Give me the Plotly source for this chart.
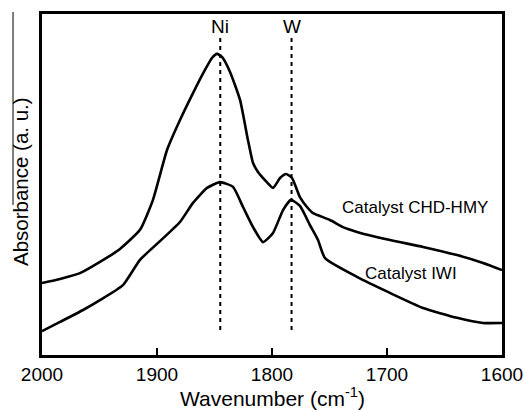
import plotly.graph_objects as go

# Wavenumber (cm^-1) and absorbance (a.u.)
chd_x = [2000, 1984.3, 1967.0, 1949.6, 1932.2, 1914.8, 1903.5, 1891.3, 1880.0, 1868.7,
         1858.3, 1852.2, 1847.8, 1843.5, 1836.5, 1827.8, 1820.9, 1816.5, 1812.2, 1806.1,
         1799.1, 1793.0, 1787.8, 1782.6, 1775.7, 1769.6, 1764.3, 1749.6, 1738.3, 1726.1,
         1697.4, 1668.7, 1639.1, 1616.5, 1600]
chd_y = [0.211, 0.223, 0.240, 0.273, 0.311, 0.367, 0.455, 0.601, 0.689, 0.768,
         0.836, 0.871, 0.883, 0.874, 0.830, 0.748, 0.630, 0.563, 0.537, 0.513,
         0.490, 0.519, 0.531, 0.519, 0.463, 0.434, 0.416, 0.396, 0.375, 0.361,
         0.337, 0.317, 0.293, 0.270, 0.249]

iwi_x = [2000, 1984.3, 1964.3, 1949.6, 1929.6, 1914.8, 1897.4, 1880.0, 1868.7, 1856.5,
         1845.2, 1833.9, 1825.2, 1816.5, 1807.8, 1799.1, 1790.4, 1783.5, 1775.7, 1767.0,
         1760.0, 1753.9, 1726.1, 1697.4, 1668.7, 1639.1, 1616.5, 1600]
iwi_y = [0.070, 0.097, 0.132, 0.161, 0.205, 0.279, 0.334, 0.390, 0.446, 0.490,
         0.507, 0.493, 0.434, 0.375, 0.331, 0.358, 0.425, 0.455, 0.437, 0.381,
         0.337, 0.284, 0.229, 0.182, 0.138, 0.109, 0.094, 0.094]

peak_pos = [1845, 1783]
peak_labels = ["Ni", "W"]
x_ticks = [2000, 1900, 1800, 1700, 1600]

FONT = "Liberation Sans, Arial, sans-serif"

fig = go.Figure()
for xp in peak_pos:
    fig.add_trace(go.Scatter(x=[xp, xp], y=[0.073, 0.93], mode="lines",
                             line=dict(color="black", width=2, dash="4px,4px"),
                             showlegend=False, hoverinfo="skip"))
fig.add_trace(go.Scatter(x=chd_x, y=chd_y, mode="lines",
                         line=dict(color="black", width=2.6, shape="spline", smoothing=0.5),
                         showlegend=False))
fig.add_trace(go.Scatter(x=iwi_x, y=iwi_y, mode="lines",
                         line=dict(color="black", width=2.6, shape="spline", smoothing=0.5),
                         showlegend=False))

annotations = []
for xp, lab in zip(peak_pos, peak_labels):
    annotations.append(dict(x=xp, y=0.962, xref="x", yref="y", text=lab, showarrow=False,
                            font=dict(size=19, color="black", family=FONT),
                            xanchor="center", yanchor="middle"))
annotations += [
    dict(x=1676, y=0.434, xref="x", yref="y", text="Catalyst CHD-HMY", showarrow=False,
         font=dict(size=17, color="black", family=FONT), xanchor="center", yanchor="middle"),
    dict(x=1679, y=0.240, xref="x", yref="y", text="Catalyst IWI", showarrow=False,
         font=dict(size=17, color="black", family=FONT), xanchor="center", yanchor="middle"),
    dict(x=0.5, y=-0.123, xref="paper", yref="paper", text="Wavenumber (cm<sup>-1</sup>)",
         showarrow=False, font=dict(size=21, color="black", family=FONT),
         xanchor="center", yanchor="middle"),
    dict(x=-0.048, y=0.51, xref="paper", yref="paper", text="Absorbance (a. u.)",
         textangle=-90, showarrow=False, font=dict(size=20.5, color="black", family=FONT),
         xanchor="center", yanchor="middle"),
]

fig.update_layout(
    width=523, height=410,
    margin=dict(l=42, r=21, t=14, b=55, autoexpand=False),
    paper_bgcolor="white", plot_bgcolor="white",
    font=dict(family=FONT, color="black"),
    annotations=annotations,
    shapes=[dict(type="line", xref="paper", yref="paper", x0=-0.063, x1=-0.063,
                 y0=1.006, y1=0.44, line=dict(color="black", width=1))],
    xaxis=dict(range=[2000.001, 1599.999], tickvals=x_ticks, ticks="inside", ticklen=7,
               tickwidth=2, tickcolor="black", showline=True, linecolor="black",
               linewidth=2.5, mirror=True, showgrid=False, zeroline=False,
               ticklabeloverflow="allow", automargin=False,
               tickfont=dict(size=19, color="black", family=FONT)),
    yaxis=dict(range=[0, 1], showticklabels=False, ticks="", showline=True,
               linecolor="black", linewidth=2.5, mirror=True, showgrid=False,
               zeroline=False, automargin=False),
)

fig.write_html("out.html")
